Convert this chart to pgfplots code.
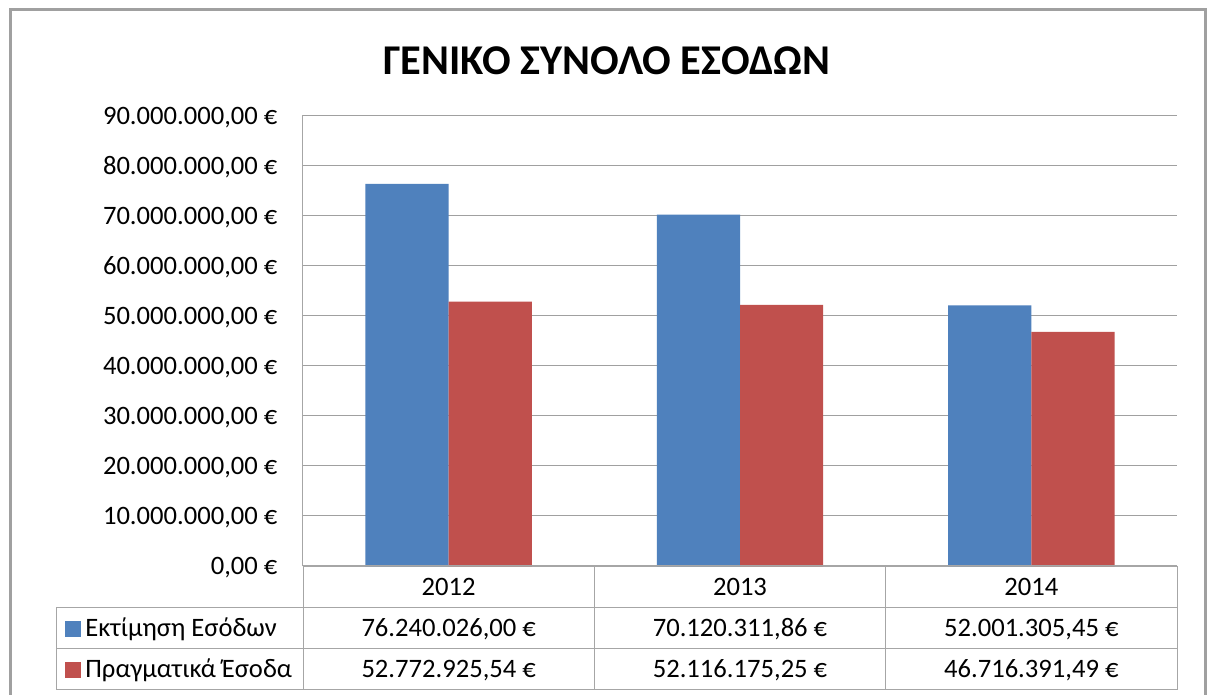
\documentclass[border=0pt]{standalone}
\usepackage{pgfplots}
\pgfplotsset{compat=1.18}
\usepackage{fontspec}
\setmainfont{Carlito}
\definecolor{ser1}{HTML}{4F81BD}
\definecolor{ser2}{HTML}{C0504D}
\definecolor{gridc}{HTML}{A0A0A0}
\definecolor{tabc}{HTML}{A6A6A6}
\definecolor{framec}{HTML}{A0A0A0}
\begin{document}
\begin{tikzpicture}[font=\fontsize{13.3}{16}\selectfont]
\begin{scope}[x=0.5pt,y=-0.5pt]
\clip (0,0) rectangle (1207,695);
\useasboundingbox (0,0) rectangle (1207,695);
\fill[white] (0,0) rectangle (1207,695);
\draw[framec, line width=1.5pt] (10,10) rectangle (1205,720);
\node[font=\fontsize{21.2}{25}\selectfont\bfseries] at (607,61) {ΓΕΝΙΚΟ ΣΥΝΟΛΟ ΕΣΟΔΩΝ};
\end{scope}
\begin{axis}[
  at={(151.5pt,-283pt)}, anchor=south west,
  scale only axis, width=437pt, height=225.5pt,
  xmin=-0.5, xmax=2.5, ymin=0, ymax=90000000,
  enlargelimits=false,
  scaled y ticks=false,
  ybar=0pt, bar width=41.62pt,
  axis x line*=bottom, axis y line*=left,
  axis line style={tabc, line width=0.5pt, -},
  xtick=\empty,
  ytick={0,10000000,20000000,30000000,40000000,50000000,60000000,70000000,80000000,90000000},
  yticklabels={{0,00 €},{10.000.000,00 €},{20.000.000,00 €},{30.000.000,00 €},{40.000.000,00 €},{50.000.000,00 €},{60.000.000,00 €},{70.000.000,00 €},{80.000.000,00 €},{90.000.000,00 €}},
  major tick length=0pt,
  ymajorgrids, grid style={gridc, line width=0.5pt},
  yticklabel style={anchor=base east, inner sep=0pt, xshift=-12.6pt, yshift=-4.5pt, font=\fontsize{13.3}{16}\selectfont},
]
\addplot[fill=ser1, draw=none] coordinates {(0,76240026.00) (1,70120311.86) (2,52001305.45)};
\addplot[fill=ser2, draw=none] coordinates {(0,52772925.54) (1,52116175.25) (2,46716391.49)};
\end{axis}
\begin{scope}[x=0.5pt,y=-0.5pt]
\draw[tabc, line width=0.5pt]
  (303,566)--(1177,566)
  (56,608)--(1177,608)
  (56,649)--(1177,649)
  (56,690)--(1177,690)
  (56,608)--(56,690)
  (303,566)--(303,690)
  (594.3,566)--(594.3,690)
  (885.7,566)--(885.7,690)
  (1177,566)--(1177,690);
\node[anchor=base] at (448.7,596) {2012};
\node[anchor=base] at (740,596) {2013};
\node[anchor=base] at (1031.3,596) {2014};
\fill[ser1] (65,621) rectangle (81,637);
\fill[ser2] (65,662) rectangle (81,678);
\node[anchor=base west, inner sep=0pt] at (85,637) {Εκτίμηση Εσόδων};
\node[anchor=base west, inner sep=0pt] at (85,678) {Πραγματικά Έσοδα};
\node[anchor=base] at (448.7,637) {76.240.026,00 €};
\node[anchor=base] at (740,637) {70.120.311,86 €};
\node[anchor=base] at (1031.3,637) {52.001.305,45 €};
\node[anchor=base] at (448.7,678) {52.772.925,54 €};
\node[anchor=base] at (740,678) {52.116.175,25 €};
\node[anchor=base] at (1031.3,678) {46.716.391,49 €};
\end{scope}
\end{tikzpicture}
\end{document}
